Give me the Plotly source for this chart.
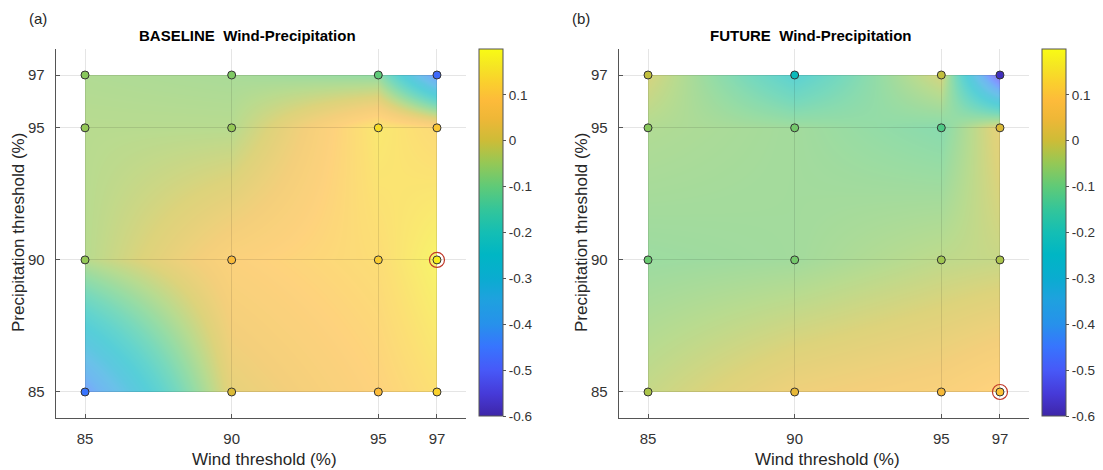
import numpy as np
import plotly.graph_objects as go

# ---- data ----
wind = [85, 90, 95, 97]
precip = [85, 90, 95, 97]
tick_vals = [85, 90, 95, 97]
cbar_ticks = [-0.6, -0.5, -0.4, -0.3, -0.2, -0.1, 0, 0.1]
cbar_labels = ["-0.6", "-0.5", "-0.4", "-0.3", "-0.2", "-0.1", "0", "0.1"]

# rows = precipitation threshold (85, 90, 95, 97), cols = wind threshold
baseline = [
    [-0.45, 0.02, 0.09, 0.13],
    [-0.05, 0.08, 0.12, 0.18],
    [-0.05, -0.05, 0.15, 0.11],
    [-0.06, -0.07, -0.10, -0.47],
]
future = [
    [-0.03, 0.04, 0.07, 0.10],
    [-0.09, -0.08, -0.04, -0.03],
    [-0.06, -0.08, -0.12, 0.02],
    [-0.01, -0.22, -0.01, -0.58],
]
titles = ["<b>BASELINE  Wind-Precipitation</b>", "<b>FUTURE  Wind-Precipitation</b>"]
panel_tags = ["(a)", "(b)"]
x_label = "Wind threshold (%)"
y_label = "Precipitation threshold (%)"

parula = [
    [0.000, "rgb(62,38,168)"],
    [0.060, "rgb(70,58,216)"],
    [0.125, "rgb(71,89,248)"],
    [0.190, "rgb(55,117,254)"],
    [0.250, "rgb(39,145,235)"],
    [0.320, "rgb(30,162,222)"],
    [0.375, "rgb(10,172,208)"],
    [0.440, "rgb(0,182,196)"],
    [0.500, "rgb(20,190,180)"],
    [0.560, "rgb(50,197,155)"],
    [0.625, "rgb(95,202,120)"],
    [0.690, "rgb(150,200,85)"],
    [0.750, "rgb(205,188,55)"],
    [0.810, "rgb(238,183,55)"],
    [0.860, "rgb(253,187,58)"],
    [0.910, "rgb(250,208,45)"],
    [0.955, "rgb(245,230,35)"],
    [1.000, "rgb(249,251,20)"],
]

# page body has an 8px margin, so the figure is 8px smaller and shifted
OFF = 8
W, H = 1103 - OFF, 470 - OFF
FONT = "Liberation Sans, Arial, Helvetica, sans-serif"
TXT = "#262626"
RANGE = [84, 98]


def fx(px):
    return (px - OFF) / W


def fy(py):
    return 1 - (py - OFF) / H


ytop_px, ybot_px = 48.6, 418.4
x_dom_px = [(55.7, 466.3), (618.7, 1029.3)]
cbar_x_px = [479, 1042]
title_cx_px = [247, 811]
tag_x_px = [38, 581]
xlab_cx_px = [264, 827]
ylab_cx_px = [18, 581]


def data_px(lo_px, hi_px, v):
    return lo_px + (v - RANGE[0]) / (RANGE[1] - RANGE[0]) * (hi_px - lo_px)


fig = go.Figure()

# surfaces (bottom subplots x/y and x2/y2), cropped exactly to the data extent
for i, z in enumerate([baseline, future]):
    sx = "" if i == 0 else "2"
    fig.add_trace(go.Heatmap(
        x=wind, y=precip, z=z, zsmooth="best",
        colorscale=parula, zmin=-0.6, zmax=0.2, zauto=False, showscale=False,
        opacity=0.66, hoverinfo="skip",
        xaxis="x" + sx, yaxis="y" + sx,
    ))

# markers on the visible axes (x3/y3 and x4/y4), drawn on top
for i, z in enumerate([baseline, future]):
    za = np.array(z, dtype=float)
    sx = "3" if i == 0 else "4"
    ca = "coloraxis" if i == 0 else "coloraxis2"
    X, Y = np.meshgrid(wind, precip)
    fig.add_trace(go.Scatter(
        x=X.flatten().tolist(), y=Y.flatten().tolist(), mode="markers",
        marker=dict(color=za.flatten().tolist(), coloraxis=ca, size=8,
                    line=dict(color="#333333", width=1)),
        xaxis="x" + sx, yaxis="y" + sx, showlegend=False, hoverinfo="skip",
    ))
    r, c = np.unravel_index(int(np.argmax(za)), za.shape)
    fig.add_trace(go.Scatter(
        x=[wind[int(c)]], y=[precip[int(r)]], mode="markers",
        marker=dict(symbol="circle-open", size=15, color="#c0392b",
                    line=dict(width=1.2)),
        xaxis="x" + sx, yaxis="y" + sx, showlegend=False, hoverinfo="skip",
    ))

axis_common = dict(
    range=RANGE, tickvals=tick_vals, showgrid=True, gridcolor="rgba(0,0,0,0.10)",
    gridwidth=1, showline=True, linecolor="#555555", linewidth=1,
    ticks="inside", ticklen=4, tickcolor="#555555", zeroline=False,
    tickfont=dict(family=FONT, size=15, color="#333333"), mirror=False,
)
hidden = dict(visible=False, showgrid=False, zeroline=False, fixedrange=True)

layout = dict(
    width=W, height=H, margin=dict(l=0, r=0, t=0, b=0),
    paper_bgcolor="white", plot_bgcolor="rgba(0,0,0,0)", showlegend=False,
    font=dict(family=FONT, color=TXT),
)
for i in range(2):
    hx = "" if i == 0 else "2"
    vx = "3" if i == 0 else "4"
    x0p, x1p = x_dom_px[i]
    # hidden surface axes: domain spans exactly wind/precip data extent
    layout["xaxis" + hx] = dict(
        hidden, range=[wind[0], wind[-1]], anchor="y" + hx,
        domain=[fx(data_px(x0p, x1p, wind[0])), fx(data_px(x0p, x1p, wind[-1]))],
    )
    layout["yaxis" + hx] = dict(
        hidden, range=[precip[0], precip[-1]], anchor="x" + hx,
        domain=[fy(data_px(ybot_px, ytop_px, precip[0])), fy(data_px(ybot_px, ytop_px, precip[-1]))],
    )
    layout["xaxis" + vx] = dict(
        axis_common, domain=[fx(x0p), fx(x1p)], anchor="y" + vx, ticklabelstandoff=7,
    )
    layout["yaxis" + vx] = dict(
        axis_common, domain=[fy(ybot_px), fy(ytop_px)], anchor="x" + vx, ticklabelstandoff=7,
    )
    layout["coloraxis" + ("" if i == 0 else "2")] = dict(
        colorscale=parula, cmin=-0.6, cmax=0.2,
        colorbar=dict(
            x=fx(cbar_x_px[i]), xanchor="left", y=fy(49), yanchor="top",
            len=(416 - 49) / H, lenmode="fraction", thickness=24,
            xpad=0, ypad=0, outlinecolor="#555555", outlinewidth=1,
            tickvals=cbar_ticks, ticktext=cbar_labels, ticks="outside",
            ticklen=3, tickcolor="#555555",
            tickfont=dict(family=FONT, size=13.5, color="#333333"),
        ),
    )

fig.update_layout(**layout)

for i in range(2):
    fig.add_annotation(text=titles[i], x=fx(title_cx_px[i]), y=fy(36),
                       xref="paper", yref="paper", showarrow=False,
                       xanchor="center", yanchor="middle",
                       font=dict(family=FONT, size=15, color="black"))
    fig.add_annotation(text=panel_tags[i], x=fx(tag_x_px[i]), y=fy(18),
                       xref="paper", yref="paper", showarrow=False,
                       xanchor="center", yanchor="middle",
                       font=dict(family=FONT, size=15, color=TXT))
    fig.add_annotation(text=x_label, x=fx(xlab_cx_px[i]), y=fy(459),
                       xref="paper", yref="paper", showarrow=False,
                       xanchor="center", yanchor="middle",
                       font=dict(family=FONT, size=17, color=TXT))
    fig.add_annotation(text=y_label, x=fx(ylab_cx_px[i]), y=fy(233),
                       xref="paper", yref="paper", showarrow=False,
                       xanchor="center", yanchor="middle", textangle=-90,
                       font=dict(family=FONT, size=17, color=TXT))

fig.write_html("out.html")
